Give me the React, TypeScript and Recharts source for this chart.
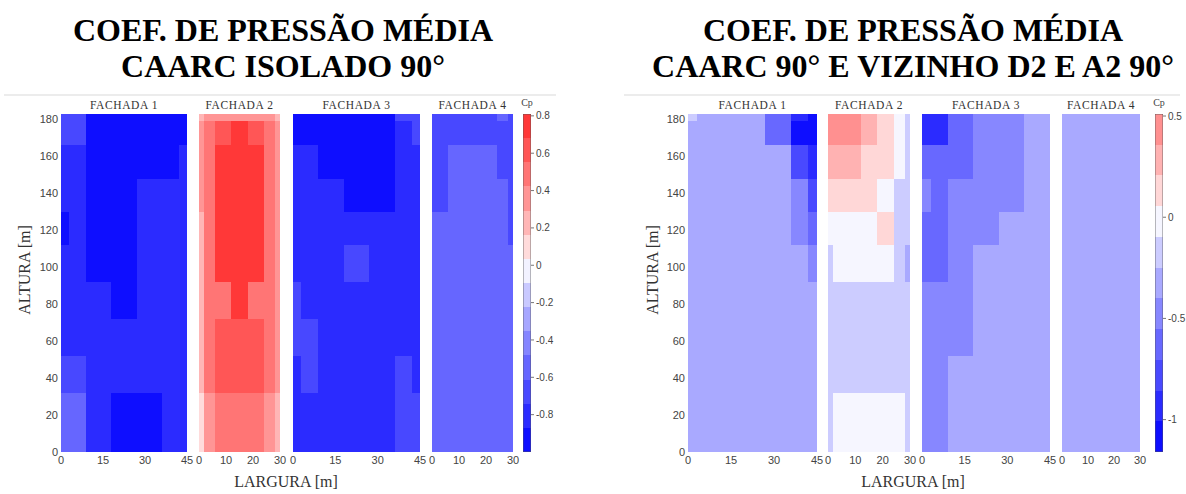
import React from 'react';
import { ComposedChart, XAxis, YAxis, ReferenceArea, Scatter } from 'recharts';

// tap grid edges (m)
const heightEdges = [0, 32, 52, 72, 92, 112, 130, 148, 166, 179, 183];
const wideEdges = [0, 3, 9, 18, 27, 36, 42, 45];
const narrowEdges = [0, 2, 6, 12, 18, 24, 28, 30];
const heightTicks = [0, 20, 40, 60, 80, 100, 120, 140, 160, 180];
const wideTicks = [0, 15, 30, 45];
const narrowTicks = [0, 10, 20, 30];

// Cp per cell, rows from the base (0-32 m) up to the top (179-183 m)
const isoF1 = [
  [-0.55, -0.55, -0.8, -0.93, -0.93, -0.8, -0.8],
  [-0.68, -0.68, -0.8, -0.8, -0.8, -0.8, -0.8],
  [-0.8, -0.8, -0.8, -0.8, -0.8, -0.8, -0.8],
  [-0.8, -0.8, -0.8, -0.93, -0.8, -0.8, -0.8],
  [-0.8, -0.8, -0.93, -0.93, -0.8, -0.8, -0.8],
  [-0.93, -0.8, -0.93, -0.93, -0.8, -0.8, -0.8],
  [-0.8, -0.8, -0.93, -0.93, -0.8, -0.8, -0.8],
  [-0.8, -0.8, -0.93, -0.93, -0.93, -0.93, -0.8],
  [-0.68, -0.68, -0.93, -0.93, -0.93, -0.93, -0.93],
  [-0.68, -0.68, -0.93, -0.93, -0.93, -0.93, -0.93],
];
const isoF2 = [
  [0.1, 0.36, 0.485, 0.485, 0.485, 0.36, 0.23],
  [0.23, 0.485, 0.61, 0.61, 0.61, 0.485, 0.36],
  [0.23, 0.485, 0.61, 0.61, 0.61, 0.485, 0.36],
  [0.23, 0.485, 0.485, 0.74, 0.485, 0.485, 0.36],
  [0.23, 0.485, 0.74, 0.74, 0.74, 0.485, 0.36],
  [0.23, 0.485, 0.74, 0.74, 0.74, 0.485, 0.36],
  [0.36, 0.485, 0.74, 0.74, 0.74, 0.485, 0.36],
  [0.36, 0.485, 0.74, 0.74, 0.74, 0.485, 0.36],
  [0.36, 0.485, 0.61, 0.74, 0.61, 0.485, 0.36],
  [0.23, 0.36, 0.36, 0.36, 0.36, 0.36, 0.23],
];
const isoF3 = [
  [-0.8, -0.8, -0.8, -0.8, -0.8, -0.68, -0.68],
  [-0.8, -0.68, -0.8, -0.8, -0.8, -0.68, -0.8],
  [-0.68, -0.68, -0.8, -0.8, -0.8, -0.8, -0.8],
  [-0.68, -0.8, -0.8, -0.8, -0.8, -0.8, -0.8],
  [-0.8, -0.8, -0.8, -0.68, -0.8, -0.8, -0.8],
  [-0.8, -0.8, -0.8, -0.8, -0.8, -0.8, -0.8],
  [-0.8, -0.8, -0.8, -0.93, -0.93, -0.8, -0.8],
  [-0.8, -0.8, -0.93, -0.93, -0.93, -0.8, -0.8],
  [-0.93, -0.93, -0.93, -0.93, -0.93, -0.8, -0.68],
  [-0.93, -0.93, -0.93, -0.93, -0.93, -0.68, -0.68],
];
const isoF4 = [
  [-0.55, -0.55, -0.55, -0.55, -0.55, -0.55, -0.55],
  [-0.55, -0.55, -0.55, -0.55, -0.55, -0.55, -0.55],
  [-0.55, -0.55, -0.55, -0.55, -0.55, -0.55, -0.55],
  [-0.55, -0.55, -0.55, -0.55, -0.55, -0.55, -0.55],
  [-0.55, -0.55, -0.55, -0.55, -0.55, -0.55, -0.55],
  [-0.55, -0.55, -0.55, -0.55, -0.55, -0.55, -0.68],
  [-0.68, -0.68, -0.55, -0.55, -0.55, -0.55, -0.68],
  [-0.68, -0.68, -0.55, -0.55, -0.55, -0.68, -0.68],
  [-0.68, -0.68, -0.68, -0.68, -0.68, -0.68, -0.68],
  [-0.68, -0.68, -0.68, -0.68, -0.68, -0.55, -0.68],
];

const vizF1 = [
  [-0.335, -0.335, -0.335, -0.335, -0.335, -0.335, -0.335],
  [-0.335, -0.335, -0.335, -0.335, -0.335, -0.335, -0.335],
  [-0.335, -0.335, -0.335, -0.335, -0.335, -0.335, -0.335],
  [-0.335, -0.335, -0.335, -0.335, -0.335, -0.335, -0.335],
  [-0.335, -0.335, -0.335, -0.335, -0.335, -0.335, -0.55],
  [-0.335, -0.335, -0.335, -0.335, -0.335, -0.55, -0.643],
  [-0.335, -0.335, -0.335, -0.335, -0.335, -0.55, -0.8],
  [-0.335, -0.335, -0.335, -0.335, -0.335, -0.8, -0.95],
  [-0.335, -0.335, -0.335, -0.335, -0.6, -1.08, -1.08],
  [-0.18, -0.335, -0.335, -0.335, -0.6, -0.95, -1.08],
];
const vizF2 = [
  [-0.18, -0.03, -0.03, -0.03, -0.03, -0.03, -0.18],
  [-0.18, -0.18, -0.18, -0.18, -0.18, -0.18, -0.18],
  [-0.18, -0.18, -0.18, -0.18, -0.18, -0.18, -0.18],
  [-0.18, -0.18, -0.18, -0.18, -0.18, -0.18, -0.18],
  [-0.18, -0.03, -0.03, -0.03, -0.03, -0.18, -0.335],
  [-0.03, -0.03, -0.03, -0.03, 0.12, -0.18, -0.18],
  [0.12, 0.12, 0.12, 0.12, -0.03, -0.18, -0.18],
  [0.28, 0.28, 0.28, 0.12, 0.12, -0.03, -0.18],
  [0.4, 0.4, 0.4, 0.25, 0.12, -0.03, -0.18],
  [0.4, 0.4, 0.4, 0.25, 0.12, -0.03, -0.18],
];
const vizF3 = [
  [-0.49, -0.49, -0.335, -0.335, -0.335, -0.335, -0.335],
  [-0.49, -0.49, -0.335, -0.335, -0.335, -0.335, -0.335],
  [-0.49, -0.49, -0.49, -0.335, -0.335, -0.335, -0.335],
  [-0.49, -0.49, -0.49, -0.335, -0.335, -0.335, -0.335],
  [-0.643, -0.643, -0.49, -0.335, -0.335, -0.335, -0.335],
  [-0.643, -0.643, -0.49, -0.49, -0.335, -0.335, -0.335],
  [-0.49, -0.643, -0.49, -0.49, -0.49, -0.335, -0.335],
  [-0.643, -0.643, -0.643, -0.49, -0.49, -0.335, -0.335],
  [-0.9, -0.9, -0.643, -0.49, -0.49, -0.335, -0.335],
  [-0.9, -0.9, -0.643, -0.49, -0.49, -0.335, -0.335],
];
const vizF4 = [
  [-0.335, -0.335, -0.335, -0.335, -0.335, -0.335, -0.335],
  [-0.335, -0.335, -0.335, -0.335, -0.335, -0.335, -0.335],
  [-0.335, -0.335, -0.335, -0.335, -0.335, -0.335, -0.335],
  [-0.335, -0.335, -0.335, -0.335, -0.335, -0.335, -0.335],
  [-0.335, -0.335, -0.335, -0.335, -0.335, -0.335, -0.335],
  [-0.335, -0.335, -0.335, -0.335, -0.335, -0.335, -0.335],
  [-0.335, -0.335, -0.335, -0.335, -0.335, -0.335, -0.335],
  [-0.335, -0.335, -0.335, -0.335, -0.335, -0.335, -0.335],
  [-0.335, -0.335, -0.335, -0.335, -0.335, -0.335, -0.335],
  [-0.335, -0.335, -0.335, -0.335, -0.335, -0.335, -0.335],
];

// colour bars
const isoRange: [number, number] = [-1.0, 0.81];
const isoLevels = 14;
const isoBarTicks = [0.8, 0.6, 0.4, 0.2, 0, -0.2, -0.4, -0.6, -0.8];
const vizRange: [number, number] = [-1.16, 0.51];
const vizLevels = 11;
const vizBarTicks = [0.5, 0, -0.5, -1];

const facadeNames = ['FACHADA 1', 'FACHADA 2', 'FACHADA 3', 'FACHADA 4'];

const PLOT_TOP = 114;
const PLOT_H = 338;
const PAD = 10;
const SERIF = '"Liberation Serif", "Times New Roman", serif';
const SANS = '"Liberation Sans", Arial, sans-serif';

function cpColour(v: number, range: [number, number], n: number) {
  const [lo, hi] = range;
  const step = (hi - lo) / n;
  const k = Math.max(0, Math.min(n - 1, Math.floor((v - lo) / step)));
  const mid = lo + (k + 0.5) * step;
  const lim = Math.max(-lo, hi);
  const s = Math.pow(Math.min(1, Math.abs(mid) / lim), 0.85);
  const w = Math.round(255 * (1 - s));
  return mid < 0 ? `rgb(${w},${w},255)` : `rgb(255,${w},${w})`;
}

type FacadeProps = {
  left: number;
  width: number;
  grid: number[][];
  edges: number[];
  ticks: number[];
  range: [number, number];
  levels: number;
  showY?: boolean;
};

function Facade({ left, width, grid, edges, ticks, range, levels, showY }: FacadeProps) {
  const yW = showY ? 34 : 0;
  const cells: { x1: number; x2: number; y1: number; y2: number; cp: number }[] = [];
  grid.forEach((row, r) =>
    row.forEach((cp, c) =>
      cells.push({ x1: edges[c], x2: edges[c + 1], y1: heightEdges[r], y2: heightEdges[r + 1], cp })
    )
  );
  const points = cells.map((d) => ({ x: (d.x1 + d.x2) / 2, y: (d.y1 + d.y2) / 2, cp: d.cp }));
  return (
    <div style={{ position: 'absolute', left: left - PAD - yW, top: PLOT_TOP - 6 }}>
      <ComposedChart
        width={width + 2 * PAD + yW}
        height={PLOT_H + 6 + 24}
        margin={{ top: 6, right: PAD, bottom: 0, left: PAD }}
      >
        <XAxis
          type="number"
          dataKey="x"
          domain={[0, edges[edges.length - 1]]}
          ticks={ticks}
          interval={0}
          allowDataOverflow
          axisLine={false}
          tickLine={false}
          tickSize={1}
          tickMargin={3}
          height={24}
          tick={{ fontSize: 11, fill: '#444', fontFamily: SANS }}
        />
        <YAxis
          type="number"
          dataKey="y"
          domain={[0, 183]}
          ticks={heightTicks}
          interval={0}
          allowDataOverflow
          hide={!showY}
          width={yW}
          axisLine={false}
          tickLine={false}
          tickSize={1}
          tickMargin={2}
          tick={{ fontSize: 11, fill: '#444', fontFamily: SANS }}
        />
        {cells.map((d, i) => (
          <ReferenceArea
            key={i}
            x1={d.x1}
            x2={d.x2}
            y1={d.y1}
            y2={d.y2}
            fill={cpColour(d.cp, range, levels)}
            fillOpacity={1}
            stroke="none"
            ifOverflow="hidden"
            shapeRendering="crispEdges"
          />
        ))}
        <Scatter data={points} fill="none" isAnimationActive={false} legendType="none" />
      </ComposedChart>
    </div>
  );
}

function ColourBar({ left, range, levels, ticks }: { left: number; range: [number, number]; levels: number; ticks: number[] }) {
  const [lo, hi] = range;
  const step = (hi - lo) / levels;
  const bands = Array.from({ length: levels }, (_, k) => ({
    y1: lo + k * step,
    y2: k === levels - 1 ? hi : lo + (k + 1) * step,
  }));
  return (
    <div style={{ position: 'absolute', left: left - PAD, top: PLOT_TOP - 6 }}>
      <ComposedChart width={PAD + 8 + 40} height={PLOT_H + 12} margin={{ top: 6, right: 0, bottom: 6, left: PAD }}>
        <XAxis type="number" dataKey="x" domain={[0, 1]} hide />
        <YAxis
          type="number"
          dataKey="y"
          orientation="right"
          domain={[lo, hi]}
          ticks={ticks}
          interval={0}
          allowDataOverflow
          width={40}
          axisLine={false}
          tickLine={{ stroke: '#777' }}
          tickSize={3}
          tickMargin={2}
          tick={{ fontSize: 10, fill: '#444', fontFamily: SANS }}
        />
        {bands.map((b, i) => (
          <ReferenceArea
            key={i}
            x1={0}
            x2={1}
            y1={b.y1}
            y2={b.y2}
            fill={cpColour((b.y1 + b.y2) / 2, range, levels)}
            fillOpacity={1}
            stroke="none"
            ifOverflow="hidden"
            shapeRendering="crispEdges"
          />
        ))}
        <ReferenceArea x1={0} x2={1} y1={lo} y2={hi} fill="none" stroke="#555" strokeWidth={0.8} ifOverflow="hidden" />
        <Scatter data={ticks.map((t) => ({ x: 0.5, y: t }))} fill="none" isAnimationActive={false} legendType="none" />
      </ComposedChart>
    </div>
  );
}

type PanelProps = {
  lefts: number[];
  widths: number[];
  grids: number[][][];
  barLeft: number;
  range: [number, number];
  levels: number;
  barTicks: number[];
};

function Panel({ lefts, widths, grids, barLeft, range, levels, barTicks }: PanelProps) {
  return (
    <>
      {grids.map((g, i) => (
        <Facade
          key={i}
          left={lefts[i]}
          width={widths[i]}
          grid={g}
          edges={i % 2 === 0 ? wideEdges : narrowEdges}
          ticks={i % 2 === 0 ? wideTicks : narrowTicks}
          range={range}
          levels={levels}
          showY={i === 0}
        />
      ))}
      <ColourBar left={barLeft} range={range} levels={levels} ticks={barTicks} />
    </>
  );
}

const isoLefts = [61, 199, 293, 432];
const isoWidths = [126, 81, 127, 81];
const vizLefts = [688, 828, 922, 1062];
const vizWidths = [129, 82, 128, 78];

export default function App() {
  const labels = (lefts: number[], widths: number[], barLeft: number, yLabelX: number, xLabelX: number) => (
    <>
      {facadeNames.map((n, i) => (
        <text
          key={n}
          x={lefts[i] + widths[i] / 2}
          y={109}
          textAnchor="middle"
          fontFamily={SERIF}
          fontSize={11.5}
          letterSpacing={0.6}
          fill="#333"
        >
          {n}
        </text>
      ))}
      <text x={barLeft + 4} y={106} textAnchor="middle" fontFamily={SERIF} fontSize={10} fill="#444">
        Cp
      </text>
      <text
        x={yLabelX}
        y={270}
        transform={`rotate(-90 ${yLabelX} 270)`}
        textAnchor="middle"
        dominantBaseline="central"
        fontFamily={SERIF}
        fontSize={16}
        fill="#333"
      >
        ALTURA [m]
      </text>
      <text x={xLabelX} y={487} textAnchor="middle" fontFamily={SERIF} fontSize={16} fill="#333">
        LARGURA [m]
      </text>
    </>
  );

  return (
    <div style={{ position: 'absolute', left: 0, top: 0, width: 1186, height: 494, background: '#fff', overflow: 'hidden' }}>
      <Panel lefts={isoLefts} widths={isoWidths} grids={[isoF1, isoF2, isoF3, isoF4]} barLeft={523} range={isoRange} levels={isoLevels} barTicks={isoBarTicks} />
      <Panel lefts={vizLefts} widths={vizWidths} grids={[vizF1, vizF2, vizF3, vizF4]} barLeft={1155} range={vizRange} levels={vizLevels} barTicks={vizBarTicks} />
      <svg width={1186} height={494} style={{ position: 'absolute', left: 0, top: 0, pointerEvents: 'none' }}>
        <rect x={4} y={94} width={552} height={2} fill="#ececec" />
        <rect x={624} y={94} width={556} height={2} fill="#ececec" />
        <g fontFamily={SERIF} fontWeight="bold" fontSize={32} fill="#000" textAnchor="middle">
          <text x={283} y={41}>COEF. DE PRESSÃO MÉDIA</text>
          <text x={283} y={77}>CAARC ISOLADO 90°</text>
          <text x={913} y={41}>COEF. DE PRESSÃO MÉDIA</text>
          <text x={913} y={77}>CAARC 90° E VIZINHO D2 E A2 90°</text>
        </g>
        {labels(isoLefts, isoWidths, 523, 24, 286)}
        {labels(vizLefts, vizWidths, 1155, 652, 913)}
      </svg>
    </div>
  );
}
